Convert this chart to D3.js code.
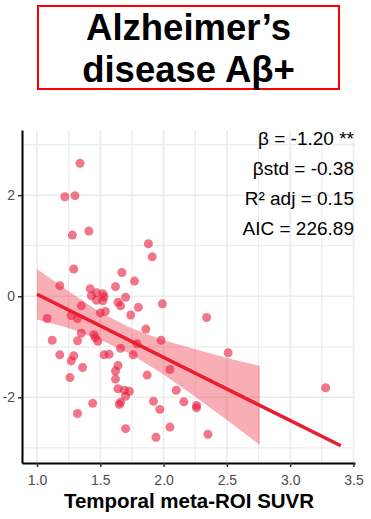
<!DOCTYPE html>
<html>
<head>
<meta charset="utf-8">
<script src="https://cdn.jsdelivr.net/npm/d3@7"></script>
<style>
  body { margin: 0; background: #fff; }
  svg { font-family: "Liberation Sans", Arial, sans-serif; }
</style>
</head>
<body>
<svg id="chart" width="371" height="519"></svg>
<script>
// SUVR values (x) and outcome values (y)
var suvr = [1.34, 1.22, 1.30, 1.28, 1.41, 1.29, 1.88, 1.91, 1.18, 1.67,
  1.77, 1.62, 1.42, 1.47, 1.52, 1.43, 1.53, 1.47, 1.52, 1.70,
  1.64, 1.66, 1.35, 1.80, 1.99, 1.50, 1.54, 1.74, 1.08, 1.27,
  1.32, 2.34, 1.86, 1.35, 1.45, 1.46, 1.48, 1.32, 1.12, 1.66,
  1.79, 1.98, 1.18, 1.29, 1.27, 1.36, 1.53, 1.57, 1.76, 1.64,
  1.62, 1.62, 1.26, 1.87, 2.05, 2.51, 1.64, 1.69, 1.73, 1.70,
  1.44, 1.32, 1.66, 1.65, 1.92, 1.97, 2.10, 2.16, 2.26, 2.26,
  1.70, 1.94, 2.05, 2.35, 3.28]
var score = [2.63, 1.97, 1.99, 1.21, 1.29, 0.54, 1.04, 0.78, 0.21, 0.47,
  0.30, 0.19, 0.15, 0.07, 0.05, 0.01, -0.01, -0.08, -0.09, -0.02,
  -0.12, -0.19, -0.19, -0.22, -0.15, -0.33, -0.30, -0.37, -0.44, -0.38,
  -0.44, -0.42, -0.65, -0.73, -0.76, -0.82, -0.89, -0.88, -0.87, -1.03,
  -0.94, -0.87, -1.16, -1.18, -1.28, -1.41, -1.16, -1.15, -1.16, -1.37,
  -1.48, -1.64, -1.61, -1.56, -1.45, -1.12, -1.83, -1.86, -1.88, -1.98,
  -2.12, -2.32, -2.10, -2.14, -2.08, -2.24, -1.86, -2.09, -2.16, -2.21,
  -2.62, -2.79, -2.59, -2.73, -1.81]

// fitted line and its confidence band
var lineX = [1.0, 3.4]
var lineY = [0.04, -2.96]
var bandX = [1.0, 1.25, 1.5, 1.75, 2.0, 2.25, 2.5, 2.76]
var bandHi = [0.54, 0.10, -0.32, -0.64, -0.87, -1.05, -1.22, -1.38]
var bandLo = [-0.46, -0.63, -0.86, -1.16, -1.55, -1.99, -2.45, -2.94]

var xTicks = [1.0, 1.5, 2.0, 2.5, 3.0, 3.5]
var xMinor = [1.25, 1.75, 2.25, 2.75, 3.25]
var yTicks = [-2, 0, 2]
var yMinor = [-3, -1, 1, 3]

var statsText = ["β = -1.20 **", "βstd = -0.38", "R² adj = 0.15", "AIC = 226.89"]
var titleLines = ["Alzheimer’s", "disease Aβ+"]
var xTitle = "Temporal meta-ROI SUVR"

var svg = d3.select("#chart")

var x = d3.scaleLinear().domain([0.8815, 3.512]).range([22, 355])
var y = d3.scaleLinear().domain([-3.30, 3.29]).range([463, 130])

// title box
svg.append("rect")
  .attr("x", 38).attr("y", 6)
  .attr("width", 301).attr("height", 83)
  .attr("fill", "none")
  .attr("stroke", "#ff0000")
  .attr("stroke-width", 2)

svg.selectAll(".title")
  .data(titleLines)
.enter().append("text")
  .attr("class", "title")
  .attr("x", 188.5)
  .attr("y", function(d, i) { return 39.5 + i * 42 })
  .attr("text-anchor", "middle")
  .attr("font-weight", "bold")
  .attr("font-size", 36.5)
  .attr("fill", "#000")
  .text(function(d) { return d })

// grid
var grid = svg.append("g").attr("stroke", "#ebebeb")

grid.selectAll(".vminor").data(xMinor)
.enter().append("line")
  .attr("x1", function(d) { return x(d) }).attr("x2", function(d) { return x(d) })
  .attr("y1", 130).attr("y2", 463)
  .attr("stroke-width", 1.2)
grid.selectAll(".hminor").data(yMinor)
.enter().append("line")
  .attr("y1", function(d) { return y(d) }).attr("y2", function(d) { return y(d) })
  .attr("x1", 22).attr("x2", 355)
  .attr("stroke-width", 1.2)
grid.selectAll(".vmajor").data(xTicks)
.enter().append("line")
  .attr("x1", function(d) { return x(d) }).attr("x2", function(d) { return x(d) })
  .attr("y1", 130).attr("y2", 463)
  .attr("stroke-width", 1.6)
grid.selectAll(".hmajor").data(yTicks)
.enter().append("line")
  .attr("y1", function(d) { return y(d) }).attr("y2", function(d) { return y(d) })
  .attr("x1", 22).attr("x2", 355)
  .attr("stroke-width", 1.6)

// confidence band
var band = d3.area()
  .x(function(d, i) { return x(bandX[i]) })
  .y0(function(d, i) { return y(bandLo[i]) })
  .y1(function(d, i) { return y(bandHi[i]) })

svg.append("path")
  .datum(bandX)
  .attr("d", band)
  .attr("fill", "#ee2a3f")
  .attr("fill-opacity", 0.38)

// points
svg.selectAll(".pt")
  .data(suvr)
.enter().append("circle")
  .attr("class", "pt")
  .attr("cx", function(d) { return x(d) })
  .attr("cy", function(d, i) { return y(score[i]) })
  .attr("r", 4.5)
  .attr("fill", "#ea1b3c")
  .attr("fill-opacity", 0.6)

// fit line
var fit = d3.line()
  .x(function(d, i) { return x(lineX[i]) })
  .y(function(d, i) { return y(lineY[i]) })

svg.append("path")
  .datum(lineX)
  .attr("d", fit)
  .attr("fill", "none")
  .attr("stroke", "#ec1c2e")
  .attr("stroke-width", 3.4)

// axes
var xAxis = svg.append("g")
  .attr("transform", "translate(0,463)")
  .call(d3.axisBottom(x).tickValues(xTicks).tickFormat(d3.format(".1f"))
    .tickSize(4).tickSizeOuter(0))
var yAxis = svg.append("g")
  .attr("transform", "translate(22,0)")
  .call(d3.axisLeft(y).tickValues(yTicks)
    .tickFormat(function(d) { return String(d) })
    .tickSize(4).tickSizeOuter(0))

svg.selectAll(".domain").attr("stroke", "#000").attr("stroke-width", 2)
svg.selectAll(".tick line").attr("stroke", "#333").attr("stroke-width", 1.5)
xAxis.selectAll("text")
  .attr("font-family", "Liberation Sans, Arial, sans-serif")
  .attr("font-size", 14).attr("fill", "#4d4d4d").attr("dy", "1.05em")
yAxis.selectAll("text")
  .attr("font-family", "Liberation Sans, Arial, sans-serif")
  .attr("font-size", 14).attr("fill", "#4d4d4d").attr("x", -7)

svg.append("text")
  .attr("x", 189).attr("y", 508)
  .attr("text-anchor", "middle")
  .attr("font-weight", "bold")
  .attr("font-size", 20.5)
  .attr("fill", "#000")
  .text(xTitle)

// stats annotation
svg.selectAll(".stat")
  .data(statsText)
.enter().append("text")
  .attr("class", "stat")
  .attr("x", 354)
  .attr("y", function(d, i) { return 145 + i * 30 })
  .attr("text-anchor", "end")
  .attr("font-size", 19)
  .attr("fill", "#000")
  .text(function(d) { return d })
</script>
</body>
</html>
